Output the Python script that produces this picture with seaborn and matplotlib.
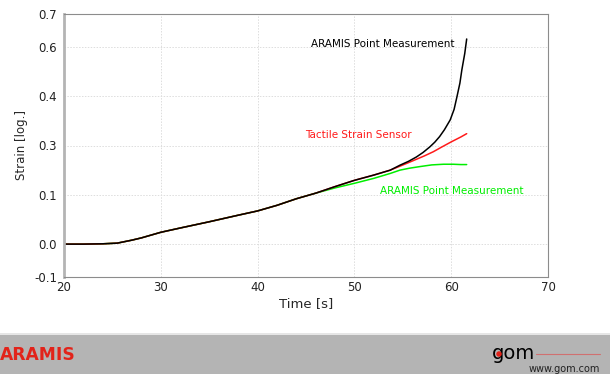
import matplotlib
matplotlib.use("Agg")
import matplotlib.pyplot as plt
import seaborn as sns
import pandas as pd
from matplotlib.patches import Rectangle, Ellipse
from matplotlib.lines import Line2D

# ---- data ----
base_t = [20, 22, 24, 25.5, 27, 28, 30, 32, 35, 38, 40, 42, 44, 46, 48, 50, 52, 53.7]
base_v = [0.0, 0.0, 0.001, 0.003, 0.012, 0.019, 0.036, 0.049, 0.068, 0.088, 0.101, 0.118, 0.138, 0.155, 0.175, 0.194, 0.21, 0.225]

black_t = base_t + [54.7, 55.6, 56.4, 57.1, 57.8, 58.3, 58.8, 59.3, 59.9, 60.3, 60.6, 60.9, 61.1, 61.4, 61.6]
black_v = base_v + [0.240, 0.252, 0.265, 0.279, 0.296, 0.310, 0.327, 0.348, 0.378, 0.410, 0.449, 0.49, 0.53, 0.58, 0.624]

red_t = base_t + [54.7, 55.6, 56.4, 57.2, 58.15, 59, 60, 61, 61.6]
red_v = base_v + [0.237, 0.248, 0.258, 0.268, 0.281, 0.295, 0.311, 0.326, 0.336]

green_t = base_t[:14] + [48, 50, 52, 53.7, 54.7, 55.7, 56.8, 58, 59.2, 60.2, 61, 61.6]
green_v = base_v[:14] + [0.171, 0.185, 0.200, 0.215, 0.225, 0.231, 0.236, 0.241, 0.243, 0.243, 0.242, 0.242]

y_ticks = [-0.1, 0.0, 0.15, 0.3, 0.45, 0.6, 0.7]
y_tick_labels = ["-0.1", "0.0", "0.1", "0.3", "0.4", "0.6", "0.7"]
x_ticks = [20, 30, 40, 50, 60, 70]

sns.set_style("white")
plt.rcParams['font.family'] = ['DejaVu Sans']

W, H = 610, 374
fig = plt.figure(figsize=(6.1, 3.74), dpi=100)
ax = fig.add_axes([64/W, 1-277/H, (548-64)/W, (277-14)/H])

sns.lineplot(x=green_t, y=green_v, ax=ax, color="#00ee00", lw=1.1)
sns.lineplot(x=red_t, y=red_v, ax=ax, color="#ff1a1a", lw=1.1)
sns.lineplot(x=black_t, y=black_v, ax=ax, color="black", lw=1.1)

ax.set_xlim(20, 70)
ax.set_ylim(-0.1, 0.7)
ax.set_xticks(x_ticks)
ax.set_yticks(y_ticks)
ax.set_yticklabels(y_tick_labels)
ax.grid(True, color="#dddddd", linestyle=(0, (1.5, 1.5)), lw=0.7)
ax.set_axisbelow(True)
for s in ["top", "right", "bottom"]:
    ax.spines[s].set_color("#8c8c8c")
    ax.spines[s].set_linewidth(0.8)
ax.spines["left"].set_color("#b4b4b4")
ax.spines["left"].set_linewidth(2)
ax.tick_params(axis="y", direction="out", length=4, width=0.8, color="#8c8c8c", labelsize=8.5, pad=1, labelcolor="#222222")
ax.tick_params(axis="x", direction="in", length=4, width=0.8, color="#8c8c8c", labelsize=8.5, pad=3, labelcolor="#222222")
ax.set_xlabel("Time [s]", fontsize=9.5, labelpad=2)
ax.set_ylabel("Strain [log.]", fontsize=8.5, labelpad=4)

fig.text(311/W, 1-44/H, "ARAMIS Point Measurement", color="black", fontsize=7.5, va="center", ha="left")
fig.text(305/W, 1-135/H, "Tactile Strain Sensor", color="#ff1a1a", fontsize=7.5, va="center", ha="left")
fig.text(380/W, 1-191/H, "ARAMIS Point Measurement", color="#00ee00", fontsize=7.5, va="center", ha="left")

# footer band
fig.patches.append(Rectangle((0, 0), 1, 1-335/H, transform=fig.transFigure, facecolor="#b4b4b4", edgecolor="none", zorder=0))
fig.patches.append(Rectangle((0, 1-335/H), 1, 2/H, transform=fig.transFigure, facecolor="#e6e6e6", edgecolor="none", zorder=0))
fig.text(0/W, 1-355/H, "ARAMIS", color="#e2231a", fontsize=12.3, fontweight="bold", va="center", ha="left")
fig.add_artist(Line2D([536/W, 600/W], [1-354/H, 1-354/H], transform=fig.transFigure, color="#d07070", lw=0.8))
fig.text(492/W, 1-359/H, "gom", color="black", fontsize=14, va="baseline", ha="left")
fig.add_artist(Ellipse((499/W, 1-354/H), 5.5/W, 5.5/H, transform=fig.transFigure, facecolor="#e2231a", edgecolor="none", zorder=10))
fig.text(600/W, 1-369/H, "www.gom.com", color="#222222", fontsize=7, va="center", ha="right")

fig.savefig("out.png", dpi=100)
